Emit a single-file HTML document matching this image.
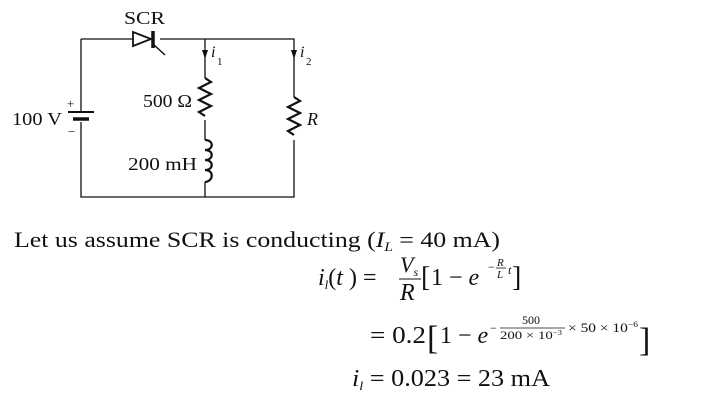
<!DOCTYPE html>
<html><head><style>body{margin:0;background:#fff}svg{display:block}text{font-family:"Liberation Serif",serif;fill:#111}</style></head>
<body>
<svg width="702" height="407" viewBox="0 0 702 407" xmlns="http://www.w3.org/2000/svg">
<g stroke="#111" stroke-width="1.3" fill="none">
<path d="M81,39 H133 M160,39 H294 V97 M294,140 V197 H81 V122 M81,112 V39"/>
<path d="M205,39 V78 M205,120 V140 M205,182 V197"/>
<path d="M205,78 l6,4 l-12,6 l12,6 l-12,6 l12,6 l-12,6 l6,4" stroke-width="2.2"/>
<path d="M294,97 l6,4 l-12,6 l12,6 l-12,6 l12,6 l-12,6 l6,4" stroke-width="2.2"/>
<path d="M205,140 c9,0 9,10 0,10 c9,0 9,10 0,10 c9,0 9,10 0,10 c9,0 9,11 0,12" stroke-width="2.2"/>
<path d="M68,112 H94" stroke-width="2"/><path d="M73,119 H89" stroke-width="3.5"/>
<path d="M133,32 L151,39 L133,46 Z" stroke-width="1.8"/>
<path d="M153,31 V48" stroke-width="3.5"/><path d="M153,44 L165,55" stroke-width="1.5"/>
</g>
<path d="M202,50 L208,50 L205,59 Z" fill="#111"/>
<path d="M291,50 L297,50 L294,59 Z" fill="#111"/>
<text x="124" y="24" font-size="18" textLength="41" lengthAdjust="spacingAndGlyphs">SCR</text>
<text x="211" y="57" font-size="16" font-style="italic">i</text><text x="217" y="65" font-size="11">1</text>
<text x="300" y="57" font-size="16" font-style="italic">i</text><text x="306" y="65" font-size="11">2</text>
<text x="143" y="107" font-size="18" textLength="49" lengthAdjust="spacingAndGlyphs">500 Ω</text>
<text x="307" y="125" font-size="18" font-style="italic">R</text>
<text x="12" y="125" font-size="18" textLength="50" lengthAdjust="spacingAndGlyphs">100 V</text>
<text x="67" y="108" font-size="13">+</text><text x="68" y="136" font-size="13">−</text>
<text x="128" y="170" font-size="18" textLength="69" lengthAdjust="spacingAndGlyphs">200 mH</text>
<text x="14" y="247" font-size="22" textLength="486" lengthAdjust="spacingAndGlyphs">Let us assume SCR is conducting (<tspan font-style="italic">I</tspan><tspan font-size="13" font-style="italic" dy="4">L</tspan><tspan dy="-4"> = 40 mA)</tspan></text>
<text x="318" y="285" font-size="24"><tspan font-style="italic">i</tspan><tspan font-size="13" font-style="italic" dy="4">l</tspan><tspan dy="-4">(</tspan><tspan font-style="italic">t</tspan> ) =</text>
<text x="400" y="272" font-size="22" font-style="italic">V<tspan font-size="12" dy="4">s</tspan></text>
<line x1="399" y1="279" x2="421" y2="279" stroke="#111" stroke-width="1"/>
<text x="400" y="300" font-size="24" font-style="italic">R</text>
<text x="421" y="286" font-size="28">[</text><text x="431" y="285" font-size="24">1 − <tspan font-style="italic">e</tspan></text>
<text x="488" y="271" font-size="12">−</text>
<text x="497" y="266" font-size="11" font-style="italic">R</text><line x1="496" y1="268" x2="506" y2="268" stroke="#111" stroke-width="0.8"/><text x="497" y="278" font-size="11" font-style="italic">L</text>
<text x="508" y="274" font-size="12" font-style="italic">t</text>
<text x="512" y="286" font-size="28">]</text>
<text x="370" y="343" font-size="24" textLength="56" lengthAdjust="spacingAndGlyphs">= 0.2</text>
<text x="427" y="349" font-size="34">[</text>
<text x="440" y="343" font-size="24">1 − <tspan font-style="italic">e</tspan></text>
<text x="490" y="332" font-size="12">−</text>
<text x="522" y="324" font-size="12">500</text>
<line x1="500" y1="328" x2="565" y2="328" stroke="#111" stroke-width="0.8"/>
<text x="500" y="339" font-size="12" textLength="62" lengthAdjust="spacingAndGlyphs">200 × 10<tspan font-size="7" dy="-4">−3</tspan></text>
<text x="568" y="332" font-size="13" textLength="70" lengthAdjust="spacingAndGlyphs">× 50 × 10<tspan font-size="8" dy="-5">−6</tspan></text>
<text x="639" y="351" font-size="34">]</text>
<text x="352" y="386" font-size="24" textLength="198" lengthAdjust="spacingAndGlyphs"><tspan font-style="italic">i</tspan><tspan font-size="13" font-style="italic" dy="4">l</tspan><tspan dy="-4"> = 0.023 = 23 mA</tspan></text>
</svg>
</body></html>
